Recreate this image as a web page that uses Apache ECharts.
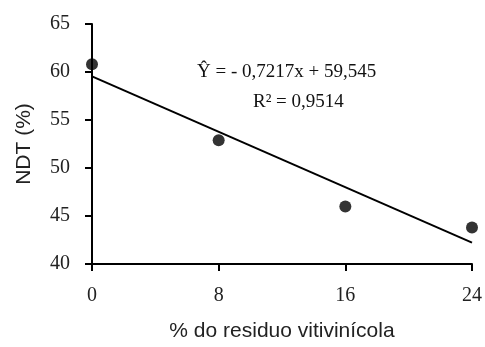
<!DOCTYPE html>
<html>
<head>
<meta charset="utf-8">
<script src="https://cdn.jsdelivr.net/npm/echarts@6/dist/echarts.min.js"></script>
<style>
  html, body { margin: 0; padding: 0; background: #fff; }
  #chart { width: 485px; height: 347px; }
</style>
</head>
<body>
<div id="chart"></div>
<script>
// dados
var doses = [0, 8, 16, 24]
var ndt = [60.8, 52.9, 46.0, 43.8]
var xTicks = [0, 8, 16, 24]
var slope = -0.7217
var intercept = 59.545

var chart = echarts.init(document.getElementById('chart'))

var pts = doses.map(function (d, i) { return [d, ndt[i]] })
var fit = [[xTicks[0], intercept + slope * xTicks[0]], [xTicks[3], intercept + slope * xTicks[3]]]

var serif = 'Liberation Serif'
var sans = 'Liberation Sans'

chart.setOption({
  animation: false,
  grid: { left: 92, right: 12, top: 24, bottom: 78 },
  xAxis: {
    type: 'value',
    min: 0,
    max: 24,
    interval: 8,
    name: '% do residuo vitivinícola',
    nameLocation: 'middle',
    nameGap: 57,
    nameTextStyle: { fontFamily: sans, fontSize: 21, color: '#222' },
    axisLine: { lineStyle: { color: '#000', width: 2 } },
    axisTick: { show: true, length: 7, lineStyle: { color: '#000', width: 2 } },
    axisLabel: { fontFamily: serif, fontSize: 20, color: '#222', margin: 22 },
    splitLine: { show: false }
  },
  yAxis: {
    type: 'value',
    min: 40,
    max: 65,
    interval: 5,
    name: 'NDT (%)',
    nameLocation: 'middle',
    nameGap: 57,
    nameTextStyle: { fontFamily: sans, fontSize: 21, color: '#222' },
    axisLine: { show: true, lineStyle: { color: '#000', width: 2 } },
    axisTick: { show: true, length: 7, lineStyle: { color: '#000', width: 2 } },
    axisLabel: { fontFamily: serif, fontSize: 20, color: '#222', margin: 22 },
    splitLine: { show: false }
  },
  series: [
    {
      type: 'line',
      data: fit,
      symbol: 'none',
      lineStyle: { color: '#000', width: 2 },
      z: 2
    },
    {
      type: 'scatter',
      data: pts,
      symbol: 'circle',
      symbolSize: 12,
      itemStyle: { color: '#000' },
      z: 3
    }
  ],
  graphic: [
    {
      type: 'text',
      left: 197,
      top: 63,
      style: { text: 'Ŷ = - 0,7217x + 59,545', fontFamily: serif, fontSize: 19, fill: '#111' }
    },
    {
      type: 'text',
      left: 253,
      top: 93,
      style: { text: 'R² = 0,9514', fontFamily: serif, fontSize: 19, fill: '#111' }
    }
  ]
})
</script>
</body>
</html>
